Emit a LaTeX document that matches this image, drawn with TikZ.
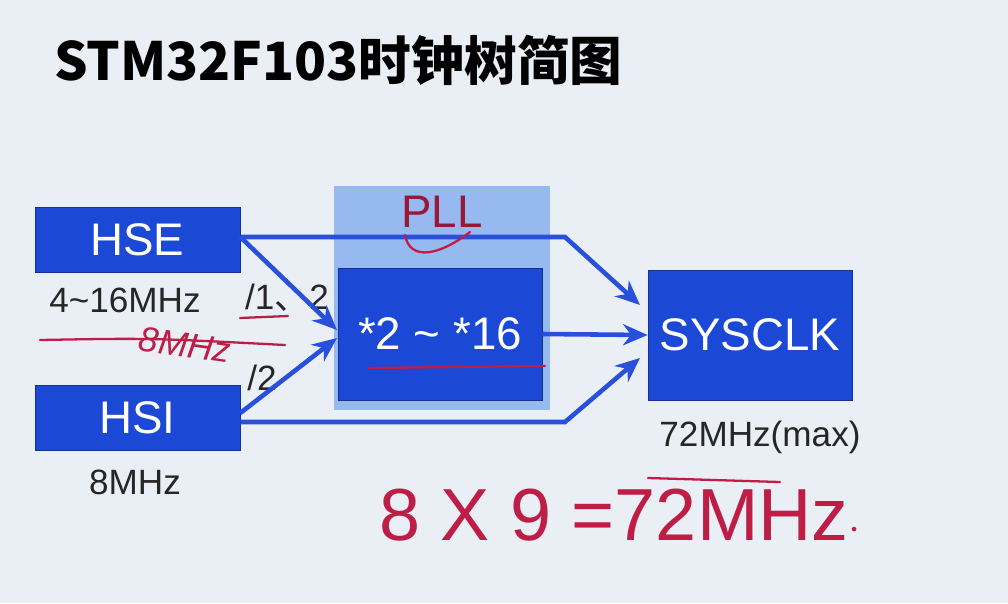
\documentclass[tikz,border=0pt]{standalone}
\usepackage{fontspec}
\setmainfont{Liberation Sans}
\newfontfamily\cjk{Noto Sans CJK SC}
\usetikzlibrary{arrows.meta}
\definecolor{slidebg}{RGB}{234,239,246}
\definecolor{boxblue}{RGB}{28,72,214}
\definecolor{pllbg}{RGB}{150,185,240}
\definecolor{arrowblue}{RGB}{40,80,220}
\definecolor{inkred}{RGB}{190,30,70}
\tikzset{
  clkbox/.style={draw=boxblue!70!black, fill=boxblue, text=white, inner sep=0pt, font=\fontsize{26}{30}\selectfont},
  clkarrow/.style={draw=arrowblue, line width=2.6pt, -{Stealth[length=14pt,width=12pt]}},
  note/.style={font=\fontsize{20}{24}\selectfont, text=black!85},
  hand/.style={inkred, line width=1.3pt, line cap=round}
}
\begin{document}
\begin{tikzpicture}[x=0.02cm, y=-0.02cm]
  \fill[slidebg] (0,0) rectangle (1008,603);

  \node[anchor=west, font=\cjk\bfseries\fontsize{30}{36}\selectfont] (title) at (48,60) {STM32F103时钟树简图};

  \fill[pllbg] (334,186) rectangle (550,410);
  \node[text=inkred!80!black, font=\fontsize{26}{30}\selectfont] (pll) at (442,212) {PLL};

  \node[clkbox, minimum width=4.1cm, minimum height=1.3cm] (hse) at (137.5,239.5) {HSE};
  \node[clkbox, minimum width=4.1cm, minimum height=1.3cm] (hsi) at (137.5,417.5) {HSI};
  \node[clkbox, minimum width=4.08cm, minimum height=2.64cm] (mul) at (440,334) {*2 \textasciitilde{} *16};
  \node[clkbox, minimum width=4.08cm, minimum height=2.6cm] (sys) at (750,335) {SYSCLK};

  \node[note] (hsef) at (125,300) {4\textasciitilde16MHz};
  \node[note] (hsif) at (135,482) {8MHz};
  \node[note] (sysf) at (760,437) {72MHz(max)};
  \node[note] (div1) at (287,298) {/1\cjk 、\rmfamily 2};
  \node[note] (div2) at (262,378) {/2};

  \coordinate (top) at (565,237);
  \coordinate (bot) at (565,422);
  \draw[clkarrow] (hse.east |- 0,237) -- (top) -- (640,305);
  \draw[clkarrow] (hse.east |- 0,237) -- (337,330);
  \draw[clkarrow] (hsi.east |- 0,413) -- (337,338);
  \draw[clkarrow] (mul.east) -- (sys.west);
  \draw[clkarrow] (hsi.east |- 0,422) -- (bot) -- (640,358);

  % handwritten notes
  \draw[hand] (40,340) .. controls (150,338) .. (285,345);
  \node[inkred, rotate=-8, font=\itshape\fontsize{20}{24}\selectfont] (hw1) at (185,345) {8MHz};
  \draw[hand] (240,318) -- (288,316);
  \draw[hand] (405,235) .. controls (410,262) and (440,255) .. (470,232);
  \draw[hand] (368,368) -- (545,366);
  \draw[hand] (648,478) -- (780,482);
  \node[inkred, font=\fontsize{42}{48}\selectfont] (hw2) at (620,515) {8 X 9 =72MHz$\cdot$};
\end{tikzpicture}
\end{document}
